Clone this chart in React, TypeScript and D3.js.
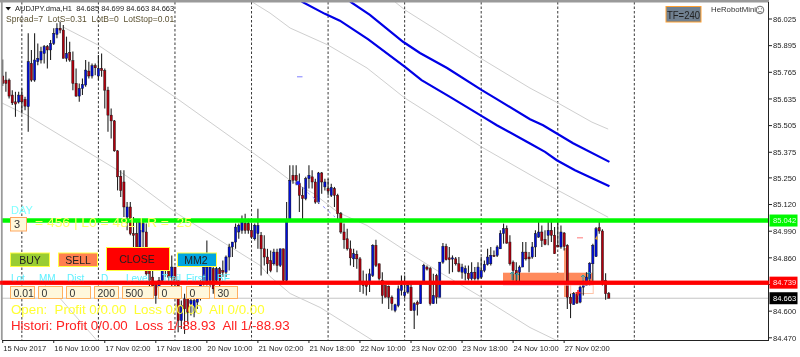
import React from "react";
import * as d3 from "d3";

const W = 800, H = 357;

// Chart data, one value per H1 bar
const highs = [85.828,85.768,85.735,85.678,85.670,85.670,85.686,85.646,85.955,85.874,85.955,85.906,85.890,85.898,85.898,85.923,85.980,86.004,86.012,85.996,85.939,85.914,85.866,85.784,85.711,85.735,85.825,85.817,85.808,85.808,85.849,85.857,85.784,85.694,85.589,85.532,85.385,85.287,85.287,85.132,85.132,85.059,85.035,85.043,85.035,85.027,84.831,84.815,84.733,84.766,84.847,84.888,84.815,84.872,84.815,84.750,84.652,84.685,84.668,84.668,84.668,84.701,84.750,84.823,84.945,84.831,84.815,84.815,84.815,84.847,84.872,84.929,84.937,85.027,85.027,85.067,85.075,85.051,85.027,85.027,85.100,84.986,84.970,84.904,84.896,84.904,84.904,84.904,84.904,85.132,85.312,85.312,85.312,85.271,85.206,85.255,85.312,85.287,85.246,85.279,85.279,85.246,85.246,85.222,85.206,85.173,85.084,85.027,85.002,84.945,84.904,84.896,84.864,84.798,84.782,84.807,84.926,84.948,84.831,84.790,84.725,84.725,84.676,84.636,84.725,84.774,84.774,84.741,84.741,84.644,84.652,84.741,84.831,84.823,84.815,84.782,84.782,84.839,84.932,84.929,84.913,84.872,84.864,84.864,84.831,84.823,84.823,84.839,84.815,84.839,84.864,84.847,84.904,84.913,84.896,84.921,84.994,85.027,85.018,84.970,84.847,84.839,84.823,84.937,84.937,84.888,84.937,84.994,85.035,85.018,84.994,85.035,85.035,85.010,85.035,85.018,84.986,84.926,84.685,84.693,84.693,84.725,84.750,84.790,84.839,84.929,85.010,85.035,85.000,84.785,84.693];
const bodyTops = [85.747,85.727,85.727,85.654,85.621,85.654,85.654,85.633,85.817,85.808,85.825,85.833,85.866,85.890,85.890,85.906,85.955,85.980,85.980,85.971,85.857,85.861,85.822,85.711,85.686,85.706,85.776,85.771,85.797,85.797,85.784,85.784,85.773,85.678,85.556,85.528,85.382,85.258,85.230,85.108,85.108,84.978,84.978,85.035,85.027,84.986,84.798,84.766,84.733,84.750,84.798,84.847,84.807,84.815,84.815,84.750,84.627,84.660,84.660,84.652,84.652,84.668,84.733,84.815,84.815,84.831,84.807,84.807,84.807,84.798,84.864,84.913,84.937,85.010,85.018,85.035,85.027,85.027,84.994,85.018,85.018,84.970,84.904,84.864,84.847,84.888,84.888,84.904,84.904,85.043,85.238,85.263,85.263,85.222,85.165,85.246,85.263,85.255,85.230,85.274,85.274,85.230,85.198,85.203,85.198,85.165,85.075,84.986,84.953,84.904,84.880,84.877,84.855,84.741,84.741,84.782,84.921,84.921,84.831,84.750,84.725,84.720,84.668,84.631,84.709,84.725,84.693,84.725,84.717,84.636,84.644,84.741,84.823,84.815,84.807,84.676,84.774,84.839,84.916,84.916,84.860,84.860,84.855,84.831,84.815,84.807,84.785,84.790,84.790,84.815,84.798,84.828,84.864,84.872,84.872,84.913,84.978,85.002,85.002,84.937,84.839,84.798,84.815,84.888,84.888,84.864,84.913,84.978,84.986,84.986,84.950,84.994,84.994,84.970,84.921,84.986,84.981,84.921,84.668,84.685,84.681,84.717,84.725,84.766,84.834,84.921,85.002,85.007,84.991,84.750,84.685];
const bodyBottoms = [85.711,85.711,85.649,85.616,85.610,85.620,85.621,85.600,85.597,85.727,85.727,85.817,85.825,85.857,85.874,85.874,85.906,85.950,85.971,85.833,85.833,85.825,85.711,85.649,85.649,85.686,85.703,85.747,85.747,85.787,85.747,85.773,85.678,85.556,85.528,85.382,85.255,85.189,85.108,85.059,84.978,84.970,84.864,84.913,84.986,84.782,84.750,84.701,84.676,84.717,84.750,84.798,84.766,84.766,84.733,84.554,84.554,84.611,84.595,84.636,84.595,84.644,84.668,84.733,84.733,84.750,84.709,84.750,84.750,84.790,84.790,84.864,84.913,84.937,84.986,84.994,84.994,84.994,84.961,84.953,84.978,84.904,84.864,84.831,84.798,84.831,84.823,84.823,84.750,84.750,85.043,85.238,85.238,85.165,85.149,85.149,85.246,85.230,85.132,85.132,85.230,85.206,85.186,85.165,85.165,85.075,84.986,84.948,84.904,84.860,84.855,84.855,84.741,84.725,84.720,84.741,84.774,84.823,84.758,84.676,84.668,84.668,84.636,84.603,84.627,84.701,84.676,84.693,84.603,84.603,84.632,84.636,84.741,84.805,84.636,84.636,84.668,84.668,84.839,84.851,84.851,84.854,84.831,84.795,84.790,84.785,84.758,84.758,84.758,84.758,84.766,84.798,84.828,84.831,84.867,84.872,84.904,84.978,84.932,84.831,84.798,84.782,84.790,84.815,84.855,84.855,84.864,84.913,84.961,84.945,84.926,84.970,84.970,84.880,84.913,84.913,84.916,84.668,84.636,84.632,84.639,84.644,84.717,84.725,84.758,84.831,84.867,84.991,84.733,84.685,84.663];
const lows = [85.698,85.670,85.637,85.605,85.548,85.613,85.564,85.580,85.475,85.719,85.719,85.800,85.808,85.808,85.784,85.825,85.898,85.931,85.955,85.833,85.817,85.817,85.678,85.646,85.621,85.654,85.694,85.735,85.735,85.751,85.727,85.743,85.589,85.475,85.442,85.377,85.189,85.157,85.059,84.994,84.970,84.913,84.855,84.904,84.880,84.774,84.701,84.668,84.636,84.685,84.733,84.766,84.733,84.717,84.717,84.497,84.513,84.489,84.538,84.579,84.570,84.611,84.652,84.725,84.725,84.717,84.685,84.733,84.701,84.766,84.766,84.798,84.864,84.904,84.953,84.978,84.978,84.978,84.953,84.945,84.904,84.774,84.823,84.782,84.790,84.823,84.790,84.815,84.741,84.741,85.035,85.222,85.214,85.084,85.035,85.141,85.198,85.198,85.124,85.124,85.173,85.189,85.165,85.157,85.108,85.035,84.978,84.904,84.896,84.823,84.815,84.807,84.693,84.685,84.676,84.693,84.766,84.815,84.750,84.636,84.668,84.611,84.603,84.595,84.619,84.676,84.660,84.685,84.603,84.513,84.579,84.636,84.741,84.798,84.627,84.636,84.636,84.668,84.831,84.847,84.782,84.790,84.823,84.790,84.758,84.750,84.750,84.750,84.750,84.750,84.758,84.790,84.823,84.823,84.864,84.864,84.904,84.929,84.929,84.823,84.750,84.746,84.746,84.815,84.847,84.790,84.855,84.864,84.958,84.913,84.921,84.921,84.937,84.880,84.913,84.904,84.896,84.611,84.566,84.632,84.636,84.639,84.676,84.725,84.725,84.741,84.864,84.978,84.725,84.655,84.663];
const bullBars = [5,8,10,11,12,13,15,16,17,20,24,25,26,28,30,39,43,44,49,50,51,53,56,59,60,61,62,63,64,65,67,70,71,72,73,74,75,79,80,85,87,89,90,95,96,99,101,103,110,115,116,123,124,125,126,127,129,131,132,135,137,138,141,144,145,147,149,150,151,152,153,155,156,157,162,163,166,167,168,171,175,179,181,182,183,184,185,186];

const priceTicks = [86.025,85.895,85.765,85.635,85.505,85.375,85.25,85.12,84.99,84.86,84.73,84.6,84.47];
const dateLabels = ["15 Nov 2017","16 Nov 10:00","17 Nov 02:00","17 Nov 18:00","20 Nov 10:00","21 Nov 02:00","21 Nov 18:00","22 Nov 10:00","23 Nov 02:00","23 Nov 18:00","24 Nov 10:00","27 Nov 02:00"];
const separatorBars = [6,30,54,78,102,126,150,174,198];

const blueUpperBars = [108.9,115.1,125.5,130.8,139.3,150.2,154.9,165.3,169.4,178.8,190.2];
const blueUpperPrices = [86.110,86.045,85.914,85.859,85.786,85.678,85.634,85.536,85.507,85.419,85.328];
const blueLowerBars = [93.7,101,105.7,114.6,126.1,131.3,140.2,150.2,154.9,165.3,170,173.7,179.4,190.2];
const blueLowerPrices = [86.110,86.050,86.017,85.926,85.792,85.727,85.645,85.551,85.507,85.418,85.377,85.336,85.287,85.209];

const grayABars = [18.9,29.9,54,78.2,83.8,90.1,97.3,105.1,114.2,126.1,137.1,150.2,165.3,173.8];
const grayAPrices = [85.986,85.898,85.644,85.375,85.312,85.238,85.175,85.082,85.018,84.896,84.789,84.667,84.520,84.456];
const grayBBars = [-0.2,7.6,36.1,40.8,54.6,80.7,83.8,90.1,99.5,111.1,116.1];
const grayBPrices = [85.615,85.556,85.287,85.238,85.077,84.823,84.769,84.686,84.618,84.505,84.456];
const grayCBars = [13.3,18,29.6];
const grayCPrices = [84.725,84.662,84.456];
const grayDBars = [78.2,83.8,90.1,102,114.2,126.1,136.1,150.2,168.4,174.1,189.8];
const grayDPrices = [86.108,86.054,85.981,85.898,85.786,85.639,85.541,85.400,85.238,85.189,85.058];
const grayEBars = [123,126.1,136.1,150.2,165.3,174.1,184.7,189.8];
const grayEPrices = [86.108,86.069,85.971,85.830,85.688,85.615,85.522,85.488];

const greenLevel = 85.042;
const redLevel = 84.739;
const bidLevel = 84.663;

const inputValues = ["0.01","0","0","200","500","0","0","30"];
const inputLabels = ["Lot","MM","Dist","D","Level","Trail","First","BE"];

const FONT = "'Liberation Sans', Arial, sans-serif";

const xBar = d3.scaleLinear().domain([0, 190]).range([2.7, 608.8]);
const yP = d3.scaleLinear().domain([84.47, 86.025]).range([337.8, 19]);

function pathOf(bars: number[], prices: number[]) {
  return d3.line<number>().x((b) => xBar(b)).y((_, i) => yP(prices[i]))(bars) || "";
}

const inputBoxes = [[10.5,24],[38.5,24],[66.5,24],[94.5,24],[122.5,31],[158.5,23],[186.5,23],[214.5,23]];
const labelX = [11,39,67,101,126,162,186,217];

export default function App() {
  const bull = new Set(bullBars);
  const PLOT_R = 769, PLOT_B = 340;
  return (
    <svg width={W} height={H} style={{ position: "absolute", left: 0, top: 0, background: "#fff" }} fontFamily={FONT}>
      <defs>
        <filter id="soft" x="0" y="0" width="100%" height="100%">
          <feGaussianBlur stdDeviation="0.33" />
        </filter>
        <clipPath id="plot"><rect x={2} y={2} width={PLOT_R - 2} height={PLOT_B - 2} /></clipPath>
      </defs>
      <g filter="url(#soft)">
        <rect width={W} height={H} fill="#fff" />
        <g clipPath="url(#plot)">
          {separatorBars.map((b) => (
            <line key={b} x1={xBar(b)} x2={xBar(b)} y1={2} y2={PLOT_B} stroke="#222" strokeWidth={0.9} strokeDasharray="2.5 2" />
          ))}
          <line x1={2} x2={PLOT_R} y1={yP(bidLevel)} y2={yP(bidLevel)} stroke="#c4c4c4" strokeWidth={1} />
          {[[grayABars, grayAPrices],[grayBBars, grayBPrices],[grayCBars, grayCPrices],[grayDBars, grayDPrices],[grayEBars, grayEPrices]].map((g, i) => (
            <path key={i} d={pathOf(g[0], g[1])} fill="none" stroke="#cfcfcf" strokeWidth={1} />
          ))}
          {/* trade zone */}
          <rect x={503} y={272.7} width={89.5} height={9.5} fill="#ff8a5c" />
          <rect x={564} y={248} width={4} height={49} fill="#ff9a70" />
          <rect x={570.7} y={284} width={22.5} height={9.5} fill="none" stroke="#ffc4a8" strokeWidth={1} />
          {highs.map((h, i) => {
            const x = xBar(i);
            return (
              <g key={i}>
                <line x1={x} x2={x} y1={yP(h)} y2={yP(lows[i])} stroke="#222" strokeWidth={1.1} />
                <rect x={x - 1.1} y={yP(bodyTops[i])} width={2.2} height={Math.max(0.8, yP(bodyBottoms[i]) - yP(bodyTops[i]))}
                  fill={bull.has(i) ? "#0010d8" : "#b00010"} stroke="#111" strokeWidth={0.45} />
              </g>
            );
          })}
          <path d={pathOf(blueUpperBars, blueUpperPrices)} fill="none" stroke="#0000e6" strokeWidth={2.2} />
          <path d={pathOf(blueLowerBars, blueLowerPrices)} fill="none" stroke="#0000e6" strokeWidth={2.2} />
          {/* small trade marks */}
          <rect x={297} y={76.3} width={5.5} height={1} fill="#7f7fff" />
          <line x1={297} y1={183} x2={335} y2={217} stroke="#8f8fff" strokeWidth={1} strokeDasharray="3 4" />
          <path d="M295.5 183 L298 180.5 L300.5 183 L298 185.5 Z" fill="#1a1aff" />
          <rect x={577} y={237.2} width={6} height={1.2} fill="#ff9090" />
          <path d="M595 239 L597 235.5 L598 240 Z" fill="#e0a030" />
          <g stroke="#20a0b0" strokeWidth={1} fill="none">
            <path d="M512 280 V272 M510 274 L512 272 L514 274" />
            <path d="M517 280 V273 M515 275 L517 273 L519 275" />
            <path d="M583 282 V275 M581 277 L583 275 L585 277" />
            <path d="M589 280 V272 M587 274 L589 272 L591 274" />
          </g>
          <path d="M578 290 V295.5 M575.5 292.7 H580.5" stroke="#ff2020" strokeWidth={1.6} />
          <line x1={503} x2={593} y1={285} y2={285} stroke="#ffb0c0" strokeWidth={1} />
          {/* level lines */}
          <line x1={0} x2={PLOT_R} y1={yP(greenLevel)} y2={yP(greenLevel)} stroke="#00f800" strokeWidth={4.4} />
          <line x1={0} x2={PLOT_R} y1={yP(redLevel)} y2={yP(redLevel)} stroke="#ff0000" strokeWidth={4} />
          <line x1={503} x2={593} y1={yP(redLevel)} y2={yP(redLevel)} stroke="#ff2060" strokeWidth={1.5} />
        </g>

        {/* frame */}
        <line x1={0} x2={PLOT_R} y1={1.2} y2={1.2} stroke="#9a9a9a" strokeWidth={2.4} />
        <line x1={1.8} x2={1.8} y1={2} y2={PLOT_B} stroke="#9a9a9a" strokeWidth={1.8} />
        <line x1={2} x2={PLOT_R} y1={PLOT_B + 0.5} y2={PLOT_B + 0.5} stroke="#222" strokeWidth={1} />
        <line x1={PLOT_R - 0.5} x2={PLOT_R - 0.5} y1={2} y2={PLOT_B + 1} stroke="#222" strokeWidth={1} />

        {/* price axis */}
        {priceTicks.map((t) => (
          <g key={t}>
            <line x1={PLOT_R} x2={PLOT_R + 3} y1={yP(t)} y2={yP(t)} stroke="#222" />
            <text x={773} y={yP(t) + 2.8} fontSize={7.6} fill="#222">{t.toFixed(3)}</text>
          </g>
        ))}
        <rect x={769.5} y={yP(greenLevel) - 6} width={28} height={12} fill="#00f800" />
        <text x={773} y={yP(greenLevel) + 2.8} fontSize={7.6} fill="#e8ffe8">{greenLevel.toFixed(3)}</text>
        <rect x={769.5} y={yP(redLevel) - 6} width={28} height={12} fill="#ff0000" />
        <text x={773} y={yP(redLevel) + 2.8} fontSize={7.6} fill="#ffe8e8">{redLevel.toFixed(3)}</text>
        <rect x={769.5} y={yP(bidLevel) - 6} width={28} height={12} fill="#000" />
        <text x={773} y={yP(bidLevel) + 2.8} fontSize={7.6} fill="#fff">{bidLevel.toFixed(3)}</text>

        {/* time axis */}
        {dateLabels.map((d, i) => (
          <g key={d}>
            <line x1={xBar(i * 16)} x2={xBar(i * 16)} y1={PLOT_B} y2={PLOT_B + 3} stroke="#222" />
            <text x={xBar(i * 16) + 0.5} y={351} fontSize={7.6} fill="#222">{d}</text>
          </g>
        ))}

        {/* header */}
        <path d="M5.5 7 L11 7 L8.2 10.5 Z" fill="#111" />
        <text x={15} y={11} fontSize={7.5} fill="#222" xmlSpace="preserve">AUDJPY.dma,H1  84.685 84.699 84.663 84.663</text>
        <text x={6} y={22} fontSize={8.5} fill="#5a5030" xmlSpace="preserve">Spread=7  LotS=0.31  LotB=0  LotStop=0.01</text>

        {/* TF badge */}
        <rect x={666} y={6.5} width={35} height={15.5} fill="#708090" stroke="#ffa030" strokeWidth={1} />
        <text x={667} y={18.5} fontSize={11} fill="#222" textLength={33} lengthAdjust="spacingAndGlyphs">TF=240</text>
        <text x={711} y={12} fontSize={7.8} fill="#333">HeRobotMini</text>
        <circle cx={760} cy={10} r={3.8} fill="none" stroke="#444" strokeWidth={0.8} />
        <circle cx={758.6} cy={8.8} r={0.5} fill="#444" />
        <circle cx={761.4} cy={8.8} r={0.5} fill="#444" />
        <path d="M758 12.3 Q760 10.6 762 12.3" fill="none" stroke="#444" strokeWidth={0.7} />

        {/* control panel */}
        <text x={11} y={214} fontSize={11} fill="#80ffff">DAY</text>
        <text x={35} y={226.5} fontSize={13.3} fill="#ffff66" xmlSpace="preserve" textLength={157} lengthAdjust="spacingAndGlyphs">= 456 | L0 = 481 | R =  25</text>
        <rect x={10.5} y={217.5} width={16} height={13.5} fill="#fff8dc" stroke="#ffa860" />
        <text x={14} y={228} fontSize={11} fill="#333">3</text>

        <rect x={10.5} y={253} width={39} height={13.5} fill="#9acd32" stroke="#ffff40" />
        <text x={30} y={264} fontSize={10.5} fill="#222" textAnchor="middle">BUY</text>
        <rect x={58.5} y={253} width={39} height={13.5} fill="#ff7f50" stroke="#ffff40" />
        <text x={78} y={264} fontSize={10.5} fill="#222" textAnchor="middle">SELL</text>
        <rect x={106.5} y={247.5} width={63} height={23} fill="#ff0000" stroke="#ffff40" />
        <text x={137} y={263} fontSize={10.5} fill="#222" textAnchor="middle">CLOSE</text>
        <rect x={177.5} y={253} width={39} height={13.5} fill="#00a5e0" stroke="#ffff40" />
        <text x={196} y={264} fontSize={10.5} fill="#222" textAnchor="middle">MM2</text>

        {inputLabels.map((l, i) => (
          <text key={l} x={labelX[i]} y={281.5} fontSize={10} fill="#60f0ff">{l}</text>
        ))}
        {/* red line repainted over the labels */}
        <line x1={0} x2={PLOT_R} y1={yP(redLevel)} y2={yP(redLevel)} stroke="#ff0000" strokeWidth={4} opacity={0.9} />
        {inputValues.map((v, i) => (
          <g key={i}>
            <rect x={inputBoxes[i][0]} y={286.5} width={inputBoxes[i][1]} height={12} fill="#fff8dc" stroke="#ffb060" />
            <text x={inputBoxes[i][0] + 3} y={296.5} fontSize={10.5} fill="#333">{v}</text>
          </g>
        ))}
        <text x={11} y={314} fontSize={13.3} fill="#ffff33" xmlSpace="preserve">Open:  Profit 0/0.00  Loss 0/0.00  All 0/0.00</text>
        <text x={11} y={330} fontSize={13.3} fill="#ff2020" xmlSpace="preserve">Histori: Profit 0/0.00  Loss 1/-88.93  All 1/-88.93</text>
      </g>
    </svg>
  );
}
